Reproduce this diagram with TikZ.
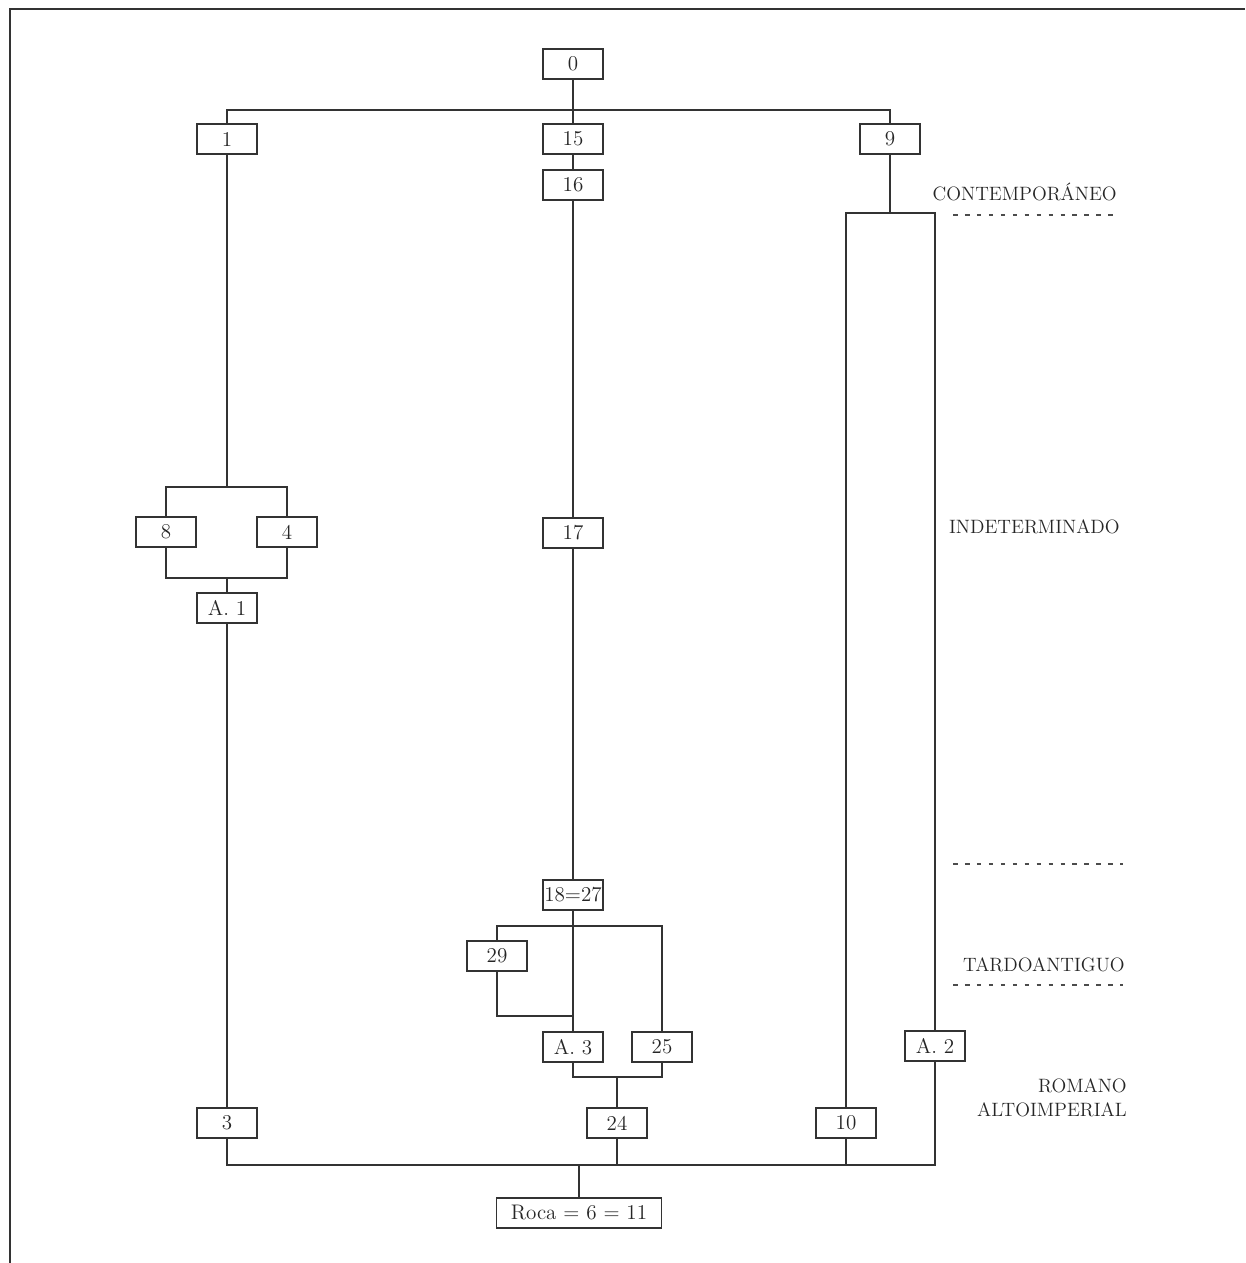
\documentclass[tikz,border=0pt]{standalone}
\usepackage{fontspec}
\usetikzlibrary{positioning}

\tikzset{
  ue/.style={draw=black!80, line width=0.9pt, fill=white, minimum width=1.2cm,
    minimum height=0.6cm, inner sep=0pt, text=black!85},
  link/.style={draw=black!80, line width=0.9pt},
  periodo/.style={anchor=east, align=right, inner sep=0pt, text=black!85,
    font=\fontsize{11}{13.5}\selectfont},
  corte/.style={draw=black!70, line width=1pt, dash pattern=on 2.6pt off 4.2pt}
}

\begin{document}
\begin{tikzpicture}[x=0.02cm, y=-0.02cm, font=\fontsize{12}{15}\selectfont]
  \useasboundingbox (0,0) rectangle (1245,1263);
  % page frame
  \draw[link] (10,1263) -- (10,9) -- (1245,9);

  % units
  \node[ue] (n0)   at (573,64)   {0};
  \node[ue] (n1)   at (227,139)  {1};
  \node[ue] (n15)  at (573,139)  {15};
  \node[ue] (n9)   at (890,139)  {9};
  \node[ue] (n16)  at (573,185)  {16};
  \node[ue] (n8)   at (166,532)  {8};
  \node[ue] (n4)   at (287,532)  {4};
  \node[ue] (nA1)  at (227,608)  {A. 1};
  \node[ue] (n17)  at (573,533)  {17};
  \node[ue] (n1827) at (573,895) {18=27};
  \node[ue] (n29)  at (497,956)  {29};
  \node[ue] (nA3)  at (573,1047) {A. 3};
  \node[ue] (n25)  at (662,1047) {25};
  \node[ue] (nA2)  at (935,1046) {A. 2};
  \node[ue] (n3)   at (227,1123) {3};
  \node[ue] (n24)  at (617,1123) {24};
  \node[ue] (n10)  at (846,1123) {10};
  \node[ue, minimum width=3.3cm] (roca) at (579,1213) {Roca = 6 = 11};

  % junction points
  \coordinate (tb)  at (573,110);
  \coordinate (b9)  at (890,213);
  \coordinate (b1)  at (227,487);
  \coordinate (b2)  at (227,578);
  \coordinate (b18) at (573,926);
  \coordinate (j29) at (573,1016);
  \coordinate (b3)  at (617,1077);
  \coordinate (bb)  at (579,1165);

  % connectors
  \draw[link] (n0.south) -- (n15.north);
  \draw[link] (n1.north) |- (tb) -| (n9.north);
  \draw[link] (n15) -- (n16);
  \draw[link] (n16) -- (n17);
  \draw[link] (n17) -- (n1827);
  \draw[link] (n1.south) -- (b1);
  \draw[link] (n8.north) |- (b1) -| (n4.north);
  \draw[link] (n8.south) |- (b2) -| (n4.south);
  \draw[link] (b2) -- (nA1.north);
  \draw[link] (nA1.south) -- (n3.north);
  \draw[link] (n9.south) -- (b9);
  \draw[link] (n10.north) |- (b9) -| (nA2.north);
  \draw[link] (n1827.south) -- (nA3.north);
  \draw[link] (n29.north) |- (b18) -| (n25.north);
  \draw[link] (n29.south) |- (j29);
  \draw[link] (nA3.south) |- (b3) -| (n25.south);
  \draw[link] (b3) -- (n24.north);
  \draw[link] (n3.south) |- (bb) -| (nA2.south);
  \draw[link] (n24.south) -- (n24.south |- bb);
  \draw[link] (n10.south) -- (n10.south |- bb);
  \draw[link] (bb) -- (roca.north);

  % periods
  \node[periodo] (pcont) at (1117,192)  {CONTEMPORÁNEO};
  \node[periodo] (pind)  at (1120,527)  {INDETERMINADO};
  \node[periodo] (ptard) at (1125,965)  {TARDOANTIGUO};
  \node[periodo] (prom)  at (1127,1098) {ROMANO\\ALTOIMPERIAL};
  \draw[corte] (953,215) -- (1113,215);
  \draw[corte] (953,864) -- (1123,864);
  \draw[corte] (953,985) -- (1123,985);
\end{tikzpicture}
\end{document}
